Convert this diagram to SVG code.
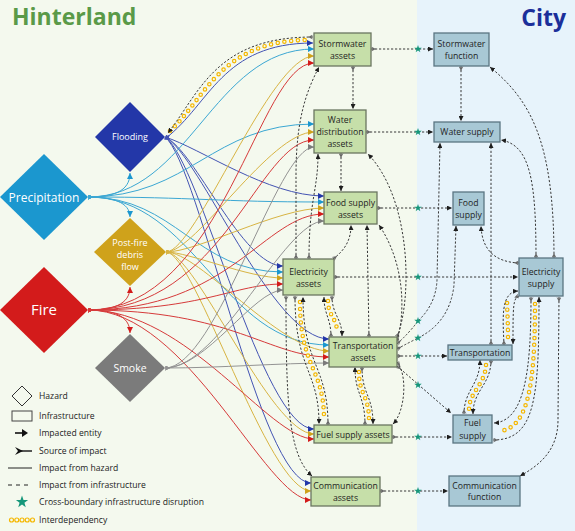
<svg xmlns="http://www.w3.org/2000/svg" width="575" height="531" viewBox="0 0 575 531">
<style>
text{font-family:"Open Sans","Noto Sans","DejaVu Sans",sans-serif}
.t{font-size:8.7px;fill:#1e1e1e;text-anchor:middle}
.ht{fill:#fff;text-anchor:middle}
.ib{fill:#c6dfa9;stroke:#6a7660;stroke-width:1.3}
.cb{fill:#a8c8d5;stroke:#5a7582;stroke-width:1.3}
.h{fill:none;stroke-width:1}
.fl{stroke:#4353b3;marker-end:url(#afl);marker-start:url(#sfl)}
.pr{stroke:#3ba7d3;marker-end:url(#apr);marker-start:url(#spr)}
.db{stroke:#d8b443;marker-end:url(#adb);marker-start:url(#sdb)}
.fi{stroke:#d63a3a;marker-end:url(#afi);marker-start:url(#sfi)}
.sm{stroke:#939393;marker-end:url(#asm);marker-start:url(#ssm)}
.d{fill:none;stroke:#383838;stroke-width:1;stroke-dasharray:2.2 1.8;marker-end:url(#ak);marker-start:url(#sk)}
.r1{fill:none;stroke:#f5b700;stroke-width:4.6;stroke-dasharray:0 6.8;stroke-linecap:round}
.r2g{fill:none;stroke:#f4f9ee;stroke-width:2.2;stroke-dasharray:0 6.8;stroke-linecap:round}
.r2b{fill:none;stroke:#e7f3fb;stroke-width:2.2;stroke-dasharray:0 6.8;stroke-linecap:round}
.lg{font-size:8.6px;fill:#222}
</style>
<defs>
<marker id="ak" viewBox="0 0 6 6" refX="6" refY="3" markerWidth="5" markerHeight="5" markerUnits="userSpaceOnUse" orient="auto"><path d="M0,0L6,3L0,6z" fill="#1e1e1e"/></marker>
<marker id="sk" viewBox="0 0 6 6" refX="0" refY="3" markerWidth="5" markerHeight="5" markerUnits="userSpaceOnUse" orient="auto"><path d="M0,0L6,3L0,6L2,3z" fill="#666"/></marker>
<marker id="afl" viewBox="0 0 6 6" refX="6" refY="3" markerWidth="6" markerHeight="6" markerUnits="userSpaceOnUse" orient="auto"><path d="M0,0L6,3L0,6z" fill="#2337a8"/></marker>
<marker id="apr" viewBox="0 0 6 6" refX="6" refY="3" markerWidth="6" markerHeight="6" markerUnits="userSpaceOnUse" orient="auto"><path d="M0,0L6,3L0,6z" fill="#1b97cf"/></marker>
<marker id="adb" viewBox="0 0 6 6" refX="6" refY="3" markerWidth="6" markerHeight="6" markerUnits="userSpaceOnUse" orient="auto"><path d="M0,0L6,3L0,6z" fill="#cfa21b"/></marker>
<marker id="afi" viewBox="0 0 6 6" refX="6" refY="3" markerWidth="6" markerHeight="6" markerUnits="userSpaceOnUse" orient="auto"><path d="M0,0L6,3L0,6z" fill="#d31b1b"/></marker>
<marker id="asm" viewBox="0 0 6 6" refX="6" refY="3" markerWidth="6" markerHeight="6" markerUnits="userSpaceOnUse" orient="auto"><path d="M0,0L6,3L0,6z" fill="#7b7b7b"/></marker>
<marker id="sfl" viewBox="0 0 6 6" refX="0" refY="3" markerWidth="5" markerHeight="5" markerUnits="userSpaceOnUse" orient="auto"><path d="M0,0L6,3L0,6L2,3z" fill="#4353b3"/></marker>
<marker id="spr" viewBox="0 0 6 6" refX="0" refY="3" markerWidth="5" markerHeight="5" markerUnits="userSpaceOnUse" orient="auto"><path d="M0,0L6,3L0,6L2,3z" fill="#3ba7d3"/></marker>
<marker id="sdb" viewBox="0 0 6 6" refX="0" refY="3" markerWidth="5" markerHeight="5" markerUnits="userSpaceOnUse" orient="auto"><path d="M0,0L6,3L0,6L2,3z" fill="#d8b443"/></marker>
<marker id="sfi" viewBox="0 0 6 6" refX="0" refY="3" markerWidth="5" markerHeight="5" markerUnits="userSpaceOnUse" orient="auto"><path d="M0,0L6,3L0,6L2,3z" fill="#d63a3a"/></marker>
<marker id="ssm" viewBox="0 0 6 6" refX="0" refY="3" markerWidth="5" markerHeight="5" markerUnits="userSpaceOnUse" orient="auto"><path d="M0,0L6,3L0,6L2,3z" fill="#939393"/></marker>
<path id="st" d="M0,-4L0.94,-1.3L3.8,-1.24L1.52,0.5L2.35,3.24L0,1.6L-2.35,3.24L-1.52,0.5L-3.8,-1.24L-0.94,-1.3Z" fill="#16977a"/>
</defs>

<rect x="0" y="0" width="417" height="531" fill="#f4f9ee"/>
<rect x="417" y="0" width="158" height="531" fill="#e7f3fb"/>
<text x="12" y="25" font-size="23" font-weight="bold" fill="#5a9a48">Hinterland</text>
<text x="566" y="26" font-size="23" font-weight="bold" fill="#1b2f9a" text-anchor="end">City</text>

<g id="connectors">
<!-- hazard impacts -->
<path class="h fl" d="M166,138 C210,104 222,43 313,43"/>
<path class="h fl" d="M165,137 C200,148 268,196 324,196"/>
<path class="h fl" d="M165,137 C195,150 242,266 283,266"/>
<path class="h fl" d="M165,137 C200,155 272,339 329,339"/>
<path class="h fl" d="M165,137 C200,160 262,429 314,429"/>
<path class="h fl" d="M165,137 C200,165 260,483 311,483"/>

<path class="h pr" d="M88,197 C190,197 212,49 314,49"/>
<path class="h pr" d="M88,197 C190,197 212,124 314,124"/>
<path class="h pr" d="M88,197 C194,197 218,202 324,202"/>
<path class="h pr" d="M88,197 C176,197 195,272 283,272"/>
<path class="h pr" d="M88,197 C196,197 221,345 329,345"/>
<path class="h pr" d="M88,197 C112,197 130,192 130,173"/>
<path class="h pr" d="M88,197 C112,197 130,202 130,217"/>

<path class="h db" d="M166,252 C196,252 270,56 314,56"/>
<path class="h db" d="M166,252 C196,252 270,132 314,132"/>
<path class="h db" d="M166,252 C198,252 277,208 324,208"/>
<path class="h db" d="M166,252 C189,252 248,278 283,278"/>
<path class="h db" d="M166,252 C199,252 280,351 329,351"/>
<path class="h db" d="M166,252 C196,252 270,434 314,434"/>
<path class="h db" d="M166,252 C195,252 268,491 311,491"/>

<path class="h fi" d="M88,310 C224,310 258,63 314,63"/>
<path class="h fi" d="M88,310 C224,310 258,140 314,140"/>
<path class="h fi" d="M88,310 C230,310 265,214 324,214"/>
<path class="h fi" d="M88,310 C205,310 234,284 283,284"/>
<path class="h fi" d="M88,310 C233,310 269,357 329,357"/>
<path class="h fi" d="M88,310 C188,310 269,439 314,439"/>
<path class="h fi" d="M88,310 C188,310 266,500 311,500"/>
<path class="h fi" d="M88,310 C112,310 130,305 130,287"/>
<path class="h fi" d="M88,310 C112,310 130,315 130,333"/>

<path class="h sm" d="M165,368 C217,368 277,147 314,147"/>
<path class="h sm" d="M165,368 C221,368 284,221 324,221"/>
<path class="h sm" d="M165,368 C206,368 254,290 283,290"/>
<path class="h sm" d="M165,368 C220,368 280,363 329,363"/>

<!-- interdependency rings -->
<path class="r1" d="M170,131 C206,98 220,40 310,40"/><path class="r2g" d="M170,131 C206,98 220,40 310,40"/>
<path class="r1" d="M300,302 C300,368 324,368 324,419"/><path class="r2g" d="M300,302 C300,368 324,368 324,419"/>
<path class="r1" d="M328,301 C328,316 337,318 337,332"/><path class="r2g" d="M328,301 C328,316 337,318 337,332"/>
<path class="r1" d="M359,372 C359,395 369,395 369,420"/><path class="r2g" d="M359,372 C359,395 369,395 369,420"/>
<path class="r1" d="M508,337 C508,320 507,310 507,300"/><path class="r2b" d="M508,337 C508,320 507,310 507,300"/>
<path class="r1" d="M535,304 C535,385 528,428 500,431"/><path class="r2b" d="M535,304 C535,385 528,428 500,431"/>
<path class="r1" d="M486,365 C485,385 469,392 469,410"/><path class="r2b" d="M486,365 C485,385 469,392 469,410"/>

<!-- infrastructure impacts -->
<path class="d" d="M313,37 C216,37 200,92 168,133"/>
<path class="d" d="M353,66 L353,109"/>
<path class="d" d="M371,49 L433,49"/>
<path class="d" d="M461,66 L461,121"/>
<path class="d" d="M366,132 L433,132"/>
<path class="d" d="M296,259 L296,175 C296,120 306,92 319,67"/>
<path class="d" d="M309,259 C309,200 318,190 318,154"/>
<path class="d" d="M341,153 L341,191"/>
<path class="d" d="M333,259 C345,250 351,240 351,225"/>
<path class="d" d="M369,337 L367,225"/>
<path class="d" d="M397,337 C412,300 412,200 368,154"/>
<path class="d" d="M397,341 C406,310 404,262 379,225"/>
<path class="d" d="M397,344 Q410,332 418,321 Q436,304 437,280 L440,143"/>
<path class="d" d="M397,349 Q410,342 418,338 Q450,322 454,285 L456,226"/>
<path class="d" d="M397,356 L447,356"/>
<path class="d" d="M397,366 L451,413"/>
<path class="d" d="M397,362 C408,375 405,412 393,424"/>
<path class="d" d="M334,277 L518,277"/>
<path class="d" d="M377,208 L452,208"/>
<path class="d" d="M392,437 L452,437"/>
<path class="d" d="M380,491 L448,491"/>
<path class="d" d="M295,296 C295,370 319,370 319,424"/>
<path class="d" d="M328,425 C328,365 303,365 303,297"/>
<path class="d" d="M331,337 C331,318 324,315 324,297"/>
<path class="d" d="M332,296 C332,315 342,318 342,336"/>
<path class="d" d="M365,425 C365,395 355,395 355,367"/>
<path class="d" d="M362,367 C362,395 373,395 373,424"/>
<path class="d" d="M286,296 C286,400 288,455 312,476"/>
<path class="d" d="M536,258 C536,180 530,145 501,140"/>
<path class="d" d="M554,258 C554,140 530,100 490,67"/>
<path class="d" d="M491,345 L491,143"/>
<path class="d" d="M519,263 C495,262 482,250 481,226"/>
<path class="d" d="M504,345 C503,320 500,292 518,291"/>
<path class="d" d="M519,296 C513,298 513,306 513,344"/>
<path class="d" d="M531,297 C531,370 525,421 494,423"/>
<path class="d" d="M493,440 C535,440 539,400 539,297"/>
<path class="d" d="M559,297 L558,420 C558,450 540,465 520,476"/>
<path class="d" d="M464,414 C464,390 480,385 480,360"/>
<path class="d" d="M491,360 C491,385 473,390 473,414"/>

<!-- cross-boundary stars -->
<use href="#st" x="418" y="49"/>
<use href="#st" x="418" y="132"/>
<use href="#st" x="418" y="208"/>
<use href="#st" x="418" y="277"/>
<use href="#st" x="418" y="321"/>
<use href="#st" x="418" y="338"/>
<use href="#st" x="418" y="356"/>
<use href="#st" x="418" y="385"/>
<use href="#st" x="418" y="437"/>
<use href="#st" x="418" y="491"/>
</g>

<!-- hazards -->
<g id="flooding"><polygon points="130,102 165,137 130,172 95,137" fill="#2337a8"/><text class="ht" x="130" y="140" font-size="9">Flooding</text></g>
<g id="precipitation"><polygon points="44,154 88,197 44,240 0,197" fill="#1b97cf"/><text class="ht" x="44" y="201.5" font-size="12">Precipitation</text></g>
<g id="debris"><polygon points="130,218 166,252 130,286 94,252" fill="#cfa21b"/><text class="ht" font-size="9"><tspan x="130" y="246">Post-fire</tspan><tspan x="130" y="258">debris</tspan><tspan x="130" y="270">flow</tspan></text></g>
<g id="fire"><polygon points="44,267 88,310 44,353 0,310" fill="#d31b1b"/><text class="ht" x="44" y="315" font-size="15">Fire</text></g>
<g id="smoke"><polygon points="130,334 165,368 130,402 95,368" fill="#7b7b7b"/><text class="ht" x="130" y="372" font-size="10.5">Smoke</text></g>

<!-- hinterland infrastructure -->
<g id="stormwater-assets"><rect class="ib" x="314" y="33" width="57" height="33"/><text class="t"><tspan x="342.5" y="47">Stormwater</tspan><tspan x="342.5" y="59">assets</tspan></text></g>
<g id="water-assets"><rect class="ib" x="314" y="110" width="52" height="43"/><text class="t"><tspan x="340" y="123">Water</tspan><tspan x="340" y="135">distribution</tspan><tspan x="340" y="147">assets</tspan></text></g>
<g id="food-assets"><rect class="ib" x="324" y="192" width="53" height="32"/><text class="t"><tspan x="350.5" y="206">Food supply</tspan><tspan x="350.5" y="218">assets</tspan></text></g>
<g id="electricity-assets"><rect class="ib" x="283" y="259" width="51" height="36"/><text class="t"><tspan x="308.5" y="275">Electricity</tspan><tspan x="308.5" y="287">assets</tspan></text></g>
<g id="transport-assets"><rect class="ib" x="329" y="337" width="68" height="30"/><text class="t"><tspan x="363" y="349">Transportation</tspan><tspan x="363" y="361">assets</tspan></text></g>
<g id="fuel-assets"><rect class="ib" x="314" y="425" width="78" height="18"/><text class="t" x="353" y="438">Fuel supply assets</text></g>
<g id="comm-assets"><rect class="ib" x="311" y="477" width="69" height="29"/><text class="t"><tspan x="345.5" y="489">Communication</tspan><tspan x="345.5" y="501">assets</tspan></text></g>

<!-- city functions -->
<g id="stormwater-function"><rect class="cb" x="434" y="33" width="55" height="33"/><text class="t"><tspan x="461.5" y="47">Stormwater</tspan><tspan x="461.5" y="59">function</tspan></text></g>
<g id="water-supply"><rect class="cb" x="434" y="122" width="66" height="20"/><text class="t" x="467" y="135">Water supply</text></g>
<g id="food-supply"><rect class="cb" x="453" y="192" width="31" height="33"/><text class="t"><tspan x="468.5" y="206">Food</tspan><tspan x="468.5" y="218">supply</tspan></text></g>
<g id="electricity-supply"><rect class="cb" x="519" y="258" width="44" height="38"/><text class="t"><tspan x="541" y="275">Electricity</tspan><tspan x="541" y="287">supply</tspan></text></g>
<g id="transportation"><rect class="cb" x="448" y="345" width="64" height="15"/><text class="t" x="480" y="355.5">Transportation</text></g>
<g id="fuel-supply"><rect class="cb" x="453" y="415" width="39" height="28"/><text class="t"><tspan x="472.5" y="426">Fuel</tspan><tspan x="472.5" y="439">supply</tspan></text></g>
<g id="comm-function"><rect class="cb" x="449" y="476" width="71" height="30"/><text class="t"><tspan x="484.5" y="489">Communication</tspan><tspan x="484.5" y="500">function</tspan></text></g>

<!-- legend -->
<g id="legend">
<polygon points="22,386 32,396 22,406 12,396" fill="none" stroke="#333" stroke-width="1"/>
<text class="lg" x="39" y="399">Hazard</text>
<rect x="12" y="411" width="20" height="10" fill="none" stroke="#444" stroke-width="1"/>
<text class="lg" x="39" y="419">Infrastructure</text>
<line x1="15" y1="433" x2="23" y2="433" stroke="#111" stroke-width="1.6"/>
<path d="M22,429L28,433L22,437z" fill="#111"/>
<text class="lg" x="39" y="436">Impacted entity</text>
<path d="M15,447L23,451L15,455L18,451z" fill="#111"/>
<line x1="18" y1="451" x2="32" y2="451" stroke="#111" stroke-width="1.4"/>
<text class="lg" x="39" y="454">Source of impact</text>
<line x1="8" y1="468" x2="32" y2="468" stroke="#222" stroke-width="1"/>
<text class="lg" x="39" y="471">Impact from hazard</text>
<line x1="8" y1="485" x2="32" y2="485" stroke="#222" stroke-width="1" stroke-dasharray="4 4"/>
<text class="lg" x="39" y="488">Impact from infrastructure</text>
<use href="#st" transform="translate(22,502) scale(1.6)"/>
<text class="lg" x="39" y="505">Cross-boundary infrastructure disruption</text>
<g fill="none" stroke="#f5b700" stroke-width="1.2"><circle cx="11.5" cy="520" r="2"/><circle cx="16.8" cy="520" r="2"/><circle cx="22" cy="520" r="2"/><circle cx="27.2" cy="520" r="2"/><circle cx="32.5" cy="520" r="2"/></g>
<text class="lg" x="39" y="523">Interdependency</text>
</g>
</svg>
